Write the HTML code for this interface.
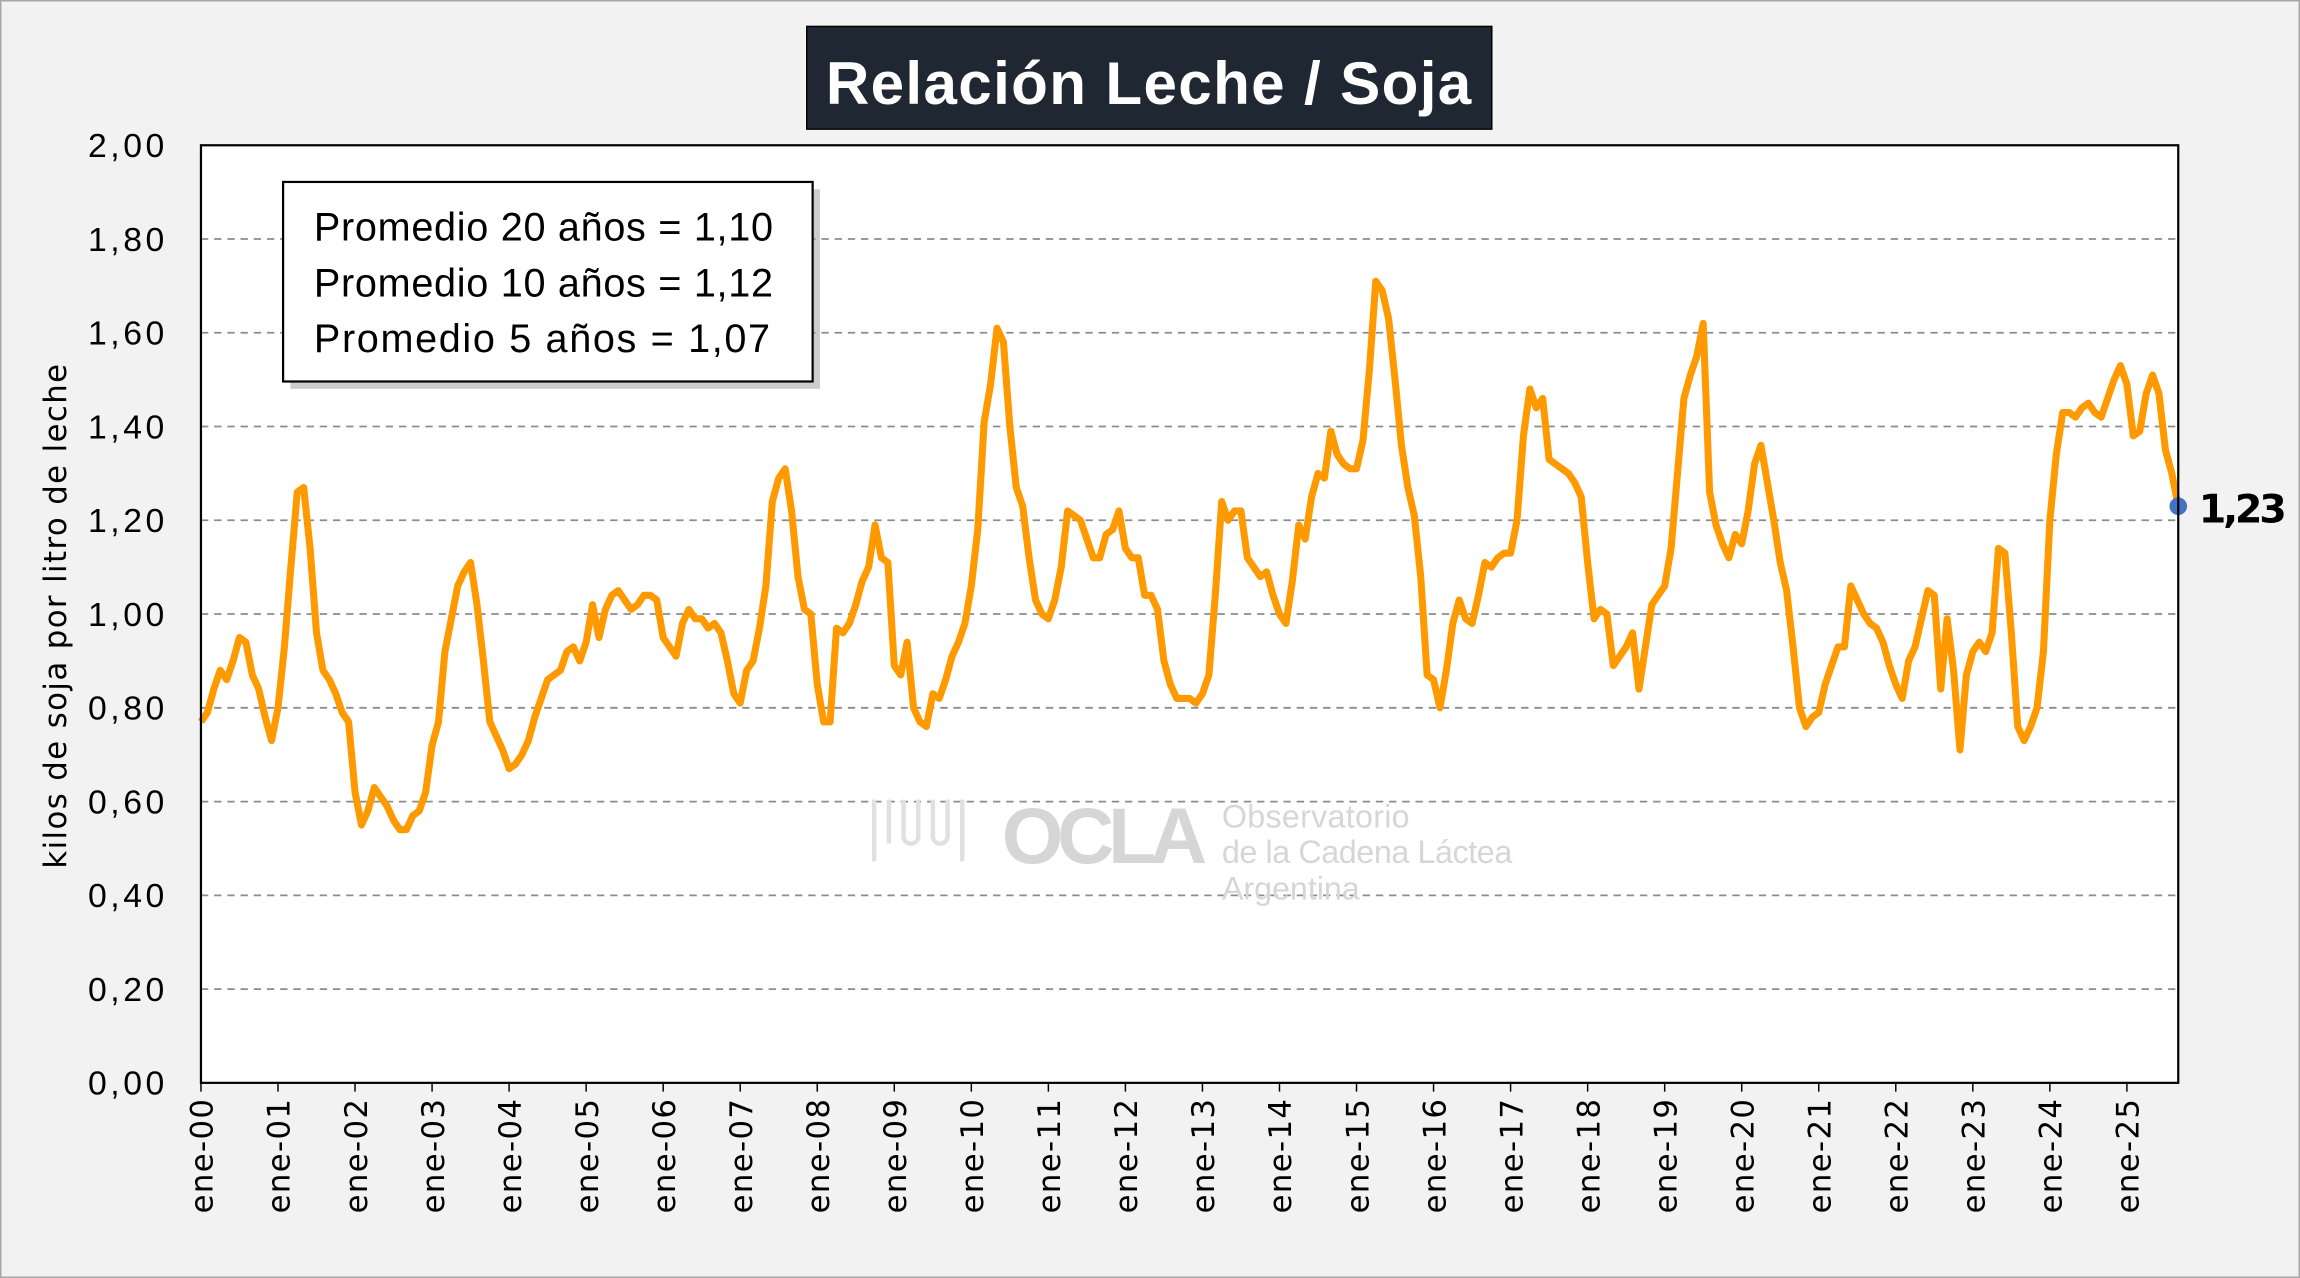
<!DOCTYPE html>
<html><head><meta charset="utf-8"><style>
html,body{margin:0;padding:0;background:#f2f2f2}
svg{display:block}
</style></head><body>
<svg id="chart" xmlns="http://www.w3.org/2000/svg" width="2300" height="1278" viewBox="0 0 1568 871" preserveAspectRatio="none">
<rect x="0.5" y="0.5" width="1567" height="870" fill="#f2f2f2" stroke="#a6a6a6"/>
<rect x="550" y="18" width="467" height="70" fill="#1f2733" stroke="#000"/>
<text x="783" y="71" text-anchor="middle" font-family="Liberation Sans, sans-serif" font-weight="bold" font-size="41" fill="#fff" textLength="440">Relación Leche / Soja</text>
<rect x="137" y="99" width="1348" height="639" fill="#fff"/>
<g id="grid"></g>
<g id="wm" fill="#d6d6d6" font-family="Liberation Sans, sans-serif">
 <g fill="none" stroke="#e0e0e0" stroke-width="3"><path d="M596 545 v42 M606 545 v30 M616 545 v25 a5 5 0 0 0 10 0 v-25 M636 545 v25 a5 5 0 0 0 10 0 v-25 M656 545 v42"/></g>
 <text x="683" y="588" font-size="54" font-weight="bold" textLength="140">OCLA</text>
 <text x="833" y="564" font-size="22" textLength="128">Observatorio</text>
 <text x="833" y="588" font-size="22" textLength="198">de la Cadena Láctea</text>
 <text x="833" y="613" font-size="22" textLength="94">Argentina</text>
</g>
<g id="series"></g>
<rect x="137" y="99" width="1348" height="639" fill="none" stroke="#000" stroke-width="1.5"/>
<g id="axes"></g>
<rect x="198" y="129" width="361" height="136" fill="#999" opacity="0.5"/>
<rect x="193" y="124" width="361" height="136" fill="#fff" stroke="#000" stroke-width="1.5"/>
<g font-family="Liberation Sans, sans-serif" font-size="27" fill="#000">
<text x="214" y="164" textLength="313">Promedio 20 años = 1,10</text>
<text x="214" y="202" textLength="313">Promedio 10 años = 1,12</text>
<text x="214" y="240" textLength="311">Promedio  5 años = 1,07</text>
</g>
<text transform="translate(45,420) rotate(-90)" text-anchor="middle" font-family="DejaVu Sans, sans-serif" font-size="21" fill="#000" textLength="344">kilos de soja por litro de leche</text>
</svg>
<script>
const yearLabels=["ene-00","ene-01","ene-02","ene-03","ene-04","ene-05","ene-06","ene-07","ene-08","ene-09","ene-10","ene-11","ene-12","ene-13","ene-14","ene-15","ene-16","ene-17","ene-18","ene-19","ene-20","ene-21","ene-22","ene-23","ene-24","ene-25"];
const yTicks=[0,0.2,0.4,0.6,0.8,1.0,1.2,1.4,1.6,1.8,2.0];
const v2000=[0.77,0.79,0.84,0.88,0.86,0.90,0.95,0.94,0.87,0.84,0.78,0.73];
const v2001=[0.80,0.93,1.10,1.26,1.27,1.14,0.96,0.88,0.86,0.83,0.79,0.77];
const v2002=[0.62,0.55,0.58,0.63,0.61,0.59,0.56,0.54,0.54,0.57,0.58,0.62];
const v2003=[0.72,0.77,0.92,0.99,1.06,1.09,1.11,1.02,0.90,0.77,0.74,0.71];
const v2004=[0.67,0.68,0.70,0.73,0.78,0.82,0.86,0.87,0.88,0.92,0.93,0.90];
const v2005=[0.94,1.02,0.95,1.01,1.04,1.05,1.03,1.01,1.02,1.04,1.04,1.03];
const v2006=[0.95,0.93,0.91,0.98,1.01,0.99,0.99,0.97,0.98,0.96,0.90,0.83];
const v2007=[0.81,0.88,0.90,0.97,1.06,1.24,1.29,1.31,1.22,1.08,1.01,1.00];
const v2008=[0.85,0.77,0.77,0.97,0.96,0.98,1.02,1.07,1.10,1.19,1.12,1.11];
const v2009=[0.89,0.87,0.94,0.80,0.77,0.76,0.83,0.82,0.86,0.91,0.94,0.98];
const v2010=[1.06,1.18,1.41,1.49,1.61,1.58,1.40,1.27,1.23,1.12,1.03,1.00];
const v2011=[0.99,1.03,1.10,1.22,1.21,1.20,1.16,1.12,1.12,1.17,1.18,1.22];
const v2012=[1.14,1.12,1.12,1.04,1.04,1.01,0.90,0.85,0.82,0.82,0.82,0.81];
const v2013=[0.83,0.87,1.04,1.24,1.20,1.22,1.22,1.12,1.10,1.08,1.09,1.04];
const v2014=[1.00,0.98,1.07,1.19,1.16,1.25,1.30,1.29,1.39,1.34,1.32,1.31];
const v2015=[1.31,1.37,1.52,1.71,1.69,1.63,1.50,1.36,1.27,1.21,1.08,0.87];
const v2016=[0.86,0.80,0.88,0.98,1.03,0.99,0.98,1.04,1.11,1.10,1.12,1.13];
const v2017=[1.13,1.20,1.38,1.48,1.44,1.46,1.33,1.32,1.31,1.30,1.28,1.25];
const v2018=[1.11,0.99,1.01,1.00,0.89,0.91,0.93,0.96,0.84,0.93,1.02,1.04];
const v2019=[1.06,1.14,1.30,1.46,1.51,1.55,1.62,1.26,1.19,1.15,1.12,1.17];
const v2020=[1.15,1.22,1.32,1.36,1.28,1.20,1.11,1.05,0.93,0.80,0.76,0.78];
const v2021=[0.79,0.85,0.89,0.93,0.93,1.06,1.03,1.00,0.98,0.97,0.94,0.89];
const v2022=[0.85,0.82,0.90,0.93,0.99,1.05,1.04,0.84,0.99,0.88,0.71,0.87];
const v2023=[0.92,0.94,0.92,0.96,1.14,1.13,0.96,0.76,0.73,0.76,0.80,0.92];
const v2024=[1.20,1.34,1.43,1.43,1.42,1.44,1.45,1.43,1.42,1.46,1.50,1.53];
const v2025=[1.49,1.38,1.39,1.47,1.51,1.47,1.35,1.30,1.23];
const lastLabel="1,23";
const values=[].concat(v2000,v2001,v2002,v2003,v2004,v2005,v2006,v2007,v2008,v2009,v2010,v2011,v2012,v2013,v2014,v2015,v2016,v2017,v2018,v2019,v2020,v2021,v2022,v2023,v2024,v2025);

const NS="http://www.w3.org/2000/svg";
const X0=137,X1=1485,Y0=738,Y1=99,YMAX=2;
const step=(X1-X0)/(values.length-1);
function xs(i){return X0+i*step;}
function ys(v){return Y0-(v/YMAX)*(Y0-Y1);}
function mk(tag,attrs,parent){const e=document.createElementNS(NS,tag);for(const k in attrs)e.setAttribute(k,attrs[k]);parent.appendChild(e);return e;}
const grid=document.getElementById('grid'),axes=document.getElementById('axes'),series=document.getElementById('series');
yTicks.forEach(t=>{
  const y=ys(t);
  if(t>0&&t<YMAX){const l=mk('line',{x1:X0,x2:X1,y1:y,y2:y,stroke:'#8c8c8c','stroke-width':1.2,'stroke-dasharray':'5,4'},grid);
    
    }
  const tx=mk('text',{x:112,y:y+8,'text-anchor':'end','font-family':'Liberation Sans, sans-serif','font-size':23,fill:'#000',textLength:52},axes);
  tx.textContent=t.toFixed(2).replace('.',',');
  
  
});
yearLabels.forEach((lab,k)=>{
  const x=xs(k*12);
  const tk=mk('line',{x1:x,x2:x,y1:Y0,y2:Y0+6,stroke:'#000','stroke-width':1},axes);
  
  
  const tx=mk('text',{transform:`translate(${x+8},${Y0+11}) rotate(-90)`,'text-anchor':'end','font-family':'DejaVu Sans, sans-serif','font-size':21,fill:'#000',textLength:78},axes);
  tx.textContent=lab;
  
  
});
const d=values.map((v,i)=>(i?'L':'M')+xs(i).toFixed(2)+' '+ys(v).toFixed(2)).join(' ');
const p=mk('path',{d:d,fill:'none',stroke:'#ff9900','stroke-width':4.8,'stroke-linejoin':'round'},series);


const li=values.length-1;
const dot=mk('circle',{cx:xs(li),cy:ys(values[li]),r:6,fill:'#4472c4'},series);


const lt=mk('text',{x:xs(li)+14,y:ys(values[li])+11,'font-family':'DejaVu Sans, sans-serif','font-weight':'bold','font-size':27,fill:'#000',textLength:60},axes);
lt.textContent=lastLabel;


</script>
</body></html>
